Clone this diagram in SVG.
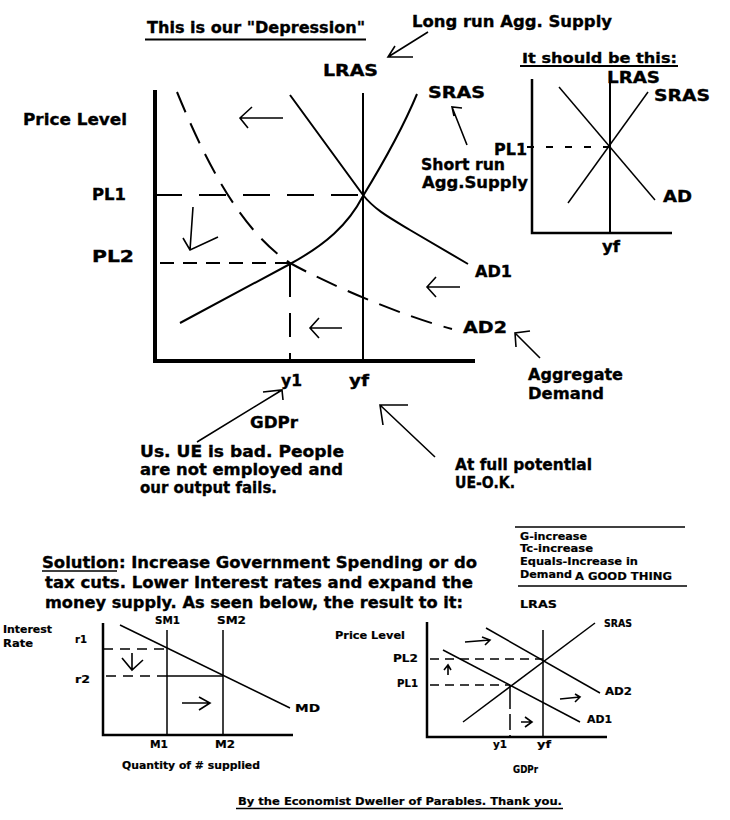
<svg xmlns="http://www.w3.org/2000/svg" width="730" height="820" viewBox="0 0 730 820">
<style>
text{font-family:"DejaVu Sans","Liberation Sans",sans-serif;font-weight:bold;fill:#000}
.l{font-size:16px;stroke:#000;stroke-width:0.35}
.m{font-size:14px;stroke:#000;stroke-width:0.3}
.s{font-size:11px;stroke:#000;stroke-width:0.2}
.ln{fill:none;stroke:#000;stroke-width:2;stroke-linecap:butt}
.thin{fill:none;stroke:#000;stroke-width:1.5}
.ax{fill:none;stroke:#000;stroke-width:4}
.ax2{fill:none;stroke:#000;stroke-width:2.5}
.ar{fill:none;stroke:#000;stroke-width:1.6;stroke-linejoin:miter}
</style>
<rect width="730" height="820" fill="#fff"/>

<g id="titles">
<text class="l" x="147" y="33" textLength="218" lengthAdjust="spacingAndGlyphs">This is our "Depression"</text>
<line class="ln" x1="145" y1="39.5" x2="366" y2="39.5"/>
<text class="l" x="412" y="27" textLength="200" lengthAdjust="spacingAndGlyphs">Long run Agg. Supply</text>
</g>

<g id="main-graph">
<path class="ax" d="M155,90 V361 H475"/>
<line class="ln" x1="363" y1="93" x2="363" y2="361"/>
<path class="ln" d="M180,323 L290,264 C325,245 348,225 363,196 C385,160 402,130 417,94"/>
<path class="ln" d="M290,95 L363,195 C375,210 390,218 410,230 L468,264"/>
<path class="ln" stroke-dasharray="22 12" d="M177,92 C205,160 240,230 290,263 C330,285 400,315 452,329"/>
<path class="ln" stroke-dasharray="27 17" d="M155,195 H363"/>
<path class="ln" stroke-dasharray="14 9" d="M160,263 H290"/>
<path class="ln" stroke-dasharray="34 16 24 16" d="M290,263 V361"/>
<text class="l" x="323" y="76" textLength="55" lengthAdjust="spacingAndGlyphs">LRAS</text>
<text class="l" x="428" y="98" textLength="57" lengthAdjust="spacingAndGlyphs">SRAS</text>
<text class="l" x="23" y="125" textLength="104" lengthAdjust="spacingAndGlyphs">Price Level</text>
<text class="l" x="92" y="200" textLength="34" lengthAdjust="spacingAndGlyphs">PL1</text>
<text class="l" x="92" y="262" textLength="42" lengthAdjust="spacingAndGlyphs">PL2</text>
<text class="l" x="421" y="170" textLength="84" lengthAdjust="spacingAndGlyphs">Short run</text>
<text class="l" x="422" y="188" textLength="106" lengthAdjust="spacingAndGlyphs">Agg.Supply</text>
<text class="l" x="475" y="277" textLength="37" lengthAdjust="spacingAndGlyphs">AD1</text>
<text class="l" x="463" y="333" textLength="44" lengthAdjust="spacingAndGlyphs">AD2</text>
<text class="l" x="281" y="386" textLength="21" lengthAdjust="spacingAndGlyphs">y1</text>
<text class="l" x="349" y="386" textLength="20" lengthAdjust="spacingAndGlyphs">yf</text>
<text class="l" x="528" y="380" textLength="95" lengthAdjust="spacingAndGlyphs">Aggregate</text>
<text class="l" x="528" y="399" textLength="76" lengthAdjust="spacingAndGlyphs">Demand</text>
<text class="l" x="250" y="428" textLength="48" lengthAdjust="spacingAndGlyphs">GDPr</text>
<text class="l" x="140" y="457" textLength="204" lengthAdjust="spacingAndGlyphs">Us. UE is bad. People</text>
<text class="l" x="140" y="475" textLength="203" lengthAdjust="spacingAndGlyphs">are not employed and</text>
<text class="l" x="140" y="493" textLength="137" lengthAdjust="spacingAndGlyphs">our output fails.</text>
<text class="l" x="455" y="470" textLength="137" lengthAdjust="spacingAndGlyphs">At full potential</text>
<text class="l" x="455" y="488" textLength="60" lengthAdjust="spacingAndGlyphs">UE-O.K.</text>
</g>

<g id="ideal-graph">
<text class="m" x="522" y="63" textLength="155" lengthAdjust="spacingAndGlyphs">It should be this:</text>
<line class="ln" x1="520" y1="66" x2="678" y2="66"/>
<path class="ax2" d="M532,79 V233 H672"/>
<line class="ln" x1="610" y1="72" x2="610" y2="233"/>
<line class="thin" x1="568" y1="203" x2="648" y2="92"/>
<line class="thin" x1="559" y1="87" x2="655" y2="200"/>
<path class="ln" stroke-dasharray="7 12" d="M527,147 H610"/>
<text class="l" x="607" y="83" textLength="53" lengthAdjust="spacingAndGlyphs">LRAS</text>
<text class="l" x="654" y="101" textLength="56" lengthAdjust="spacingAndGlyphs">SRAS</text>
<text class="l" x="494" y="155" textLength="33" lengthAdjust="spacingAndGlyphs">PL1</text>
<text class="l" x="663" y="202" textLength="29" lengthAdjust="spacingAndGlyphs">AD</text>
<text class="l" x="602" y="252" textLength="18" lengthAdjust="spacingAndGlyphs">yf</text>
</g>

<g id="solution">
<text class="l" x="42" y="568" textLength="435" lengthAdjust="spacingAndGlyphs">Solution: Increase Government Spending or do</text>
<line class="thin" x1="42" y1="571" x2="117" y2="571"/>
<text class="l" x="45" y="588" textLength="428" lengthAdjust="spacingAndGlyphs">tax cuts. Lower Interest rates and expand the</text>
<text class="l" x="45" y="608" textLength="418" lengthAdjust="spacingAndGlyphs">money supply. As seen below, the result to it:</text>
</g>

<g id="note-box">
<line class="thin" x1="515" y1="527" x2="685" y2="527"/>
<text class="s" x="520" y="540" textLength="67" lengthAdjust="spacingAndGlyphs">G-increase</text>
<text class="s" x="520" y="552" textLength="73" lengthAdjust="spacingAndGlyphs">Tc-increase</text>
<text class="s" x="520" y="565" textLength="118" lengthAdjust="spacingAndGlyphs">Equals-Increase in</text>
<text class="s" x="520" y="578" textLength="52" lengthAdjust="spacingAndGlyphs">Demand</text>
<text class="s" x="575" y="580" textLength="97" lengthAdjust="spacingAndGlyphs">A GOOD THING</text>
<line class="thin" x1="518" y1="586" x2="687" y2="586"/>
<text class="s" x="520" y="608" textLength="37" lengthAdjust="spacingAndGlyphs">LRAS</text>
</g>

<g id="money-graph">
<path class="ax2" d="M103,623 V735 H293"/>
<line class="thin" x1="167" y1="630" x2="167" y2="735"/>
<line class="thin" x1="223" y1="630" x2="223" y2="735"/>
<line class="thin" x1="120" y1="625" x2="290" y2="708"/>
<path class="thin" stroke-dasharray="10 7" d="M103,649 H167"/>
<path class="thin" stroke-dasharray="10 7" d="M106,676 H160"/>
<path class="thin" d="M160,676 H223"/>
<text class="s" x="3" y="633" textLength="49" lengthAdjust="spacingAndGlyphs">Interest</text>
<text class="s" x="3" y="647" textLength="30" lengthAdjust="spacingAndGlyphs">Rate</text>
<text class="s" x="75" y="643" textLength="12" lengthAdjust="spacingAndGlyphs">r1</text>
<text class="s" x="75" y="683" textLength="15" lengthAdjust="spacingAndGlyphs">r2</text>
<text class="s" x="155" y="624" textLength="25" lengthAdjust="spacingAndGlyphs">SM1</text>
<text class="s" x="217" y="624" textLength="29" lengthAdjust="spacingAndGlyphs">SM2</text>
<text class="s" x="295" y="712" textLength="25" lengthAdjust="spacingAndGlyphs">MD</text>
<text class="s" x="150" y="748" textLength="18" lengthAdjust="spacingAndGlyphs">M1</text>
<text class="s" x="215" y="748" textLength="20" lengthAdjust="spacingAndGlyphs">M2</text>
<text class="s" x="122" y="769" textLength="138" lengthAdjust="spacingAndGlyphs">Quantity of # supplied</text>
</g>

<g id="adas-graph">
<path class="ax2" d="M427,622 V737 H607"/>
<line class="thin" x1="543" y1="630" x2="543" y2="737"/>
<line class="thin" x1="463" y1="722" x2="595" y2="623"/>
<line class="thin" x1="443" y1="650" x2="580" y2="722"/>
<line class="thin" x1="486" y1="628" x2="600" y2="693"/>
<path class="thin" stroke-dasharray="9 6" d="M430,659 H543"/>
<path class="thin" stroke-dasharray="9 6" d="M430,685 H510"/>
<path class="thin" stroke-dasharray="24 5 16 5" d="M510,685 V737"/>
<text class="s" x="335" y="639" textLength="70" lengthAdjust="spacingAndGlyphs">Price Level</text>
<text class="s" x="604" y="627" textLength="28" lengthAdjust="spacingAndGlyphs">SRAS</text>
<text class="s" x="393" y="662" textLength="25" lengthAdjust="spacingAndGlyphs">PL2</text>
<text class="s" x="397" y="687" textLength="21" lengthAdjust="spacingAndGlyphs">PL1</text>
<text class="s" x="605" y="695" textLength="27" lengthAdjust="spacingAndGlyphs">AD2</text>
<text class="s" x="587" y="723" textLength="25" lengthAdjust="spacingAndGlyphs">AD1</text>
<text class="s" x="493" y="748" textLength="14" lengthAdjust="spacingAndGlyphs">y1</text>
<text class="s" x="537" y="748" textLength="14" lengthAdjust="spacingAndGlyphs">yf</text>
<text class="s" x="513" y="773" textLength="25" lengthAdjust="spacingAndGlyphs">GDPr</text>
</g>

<g id="connectors">
<path class="ar" d="M428,32 L388,57 M413,57 L388,57 L395,46"/>
<path class="ar" d="M283,118 H240 M252,107 L240,118 L248,128"/>
<path class="ar" d="M193,207 L190,250 M183,238 L190,250 L218,237"/>
<path class="ar" d="M342,328 H310 M319,318 L310,328 L319,338"/>
<path class="ar" d="M460,287 H427 M436,277 L427,287 L436,297"/>
<path class="ar" d="M467,145 L452,107 M462,108 L452,107 L454,116"/>
<path class="ar" d="M540,358 L515,333 M530,331 L515,333 L516,347"/>
<path class="ar" d="M197,442 L282,390 M263,392 L282,390 L283,400"/>
<path class="ar" d="M435,457 L380,405 M408,405 L380,405 L383,425"/>
<path class="ar" d="M132,653 V670 M122,658 L132,670 L143,660"/>
<path class="ar" d="M182,703 H210 M199,697 L210,703 L199,710"/>
<path class="ar" d="M465,642 L490,640 M482,637 L490,640 L485,645"/>
<path class="ar" d="M448,675 V665 M444,670 L448,665 L451,670"/>
<path class="ar" d="M560,699 L580,697 M575,694 L580,697 L575,702"/>
<path class="ar" d="M521,722 H532 M525,717 L532,722 L525,727"/>
</g>

<g id="footer">
<text class="s" x="238" y="805" textLength="324" lengthAdjust="spacingAndGlyphs">By the Economist Dweller of Parables. Thank you.</text>
<line class="thin" x1="236" y1="808.5" x2="563" y2="808.5"/>
</g>
</svg>
